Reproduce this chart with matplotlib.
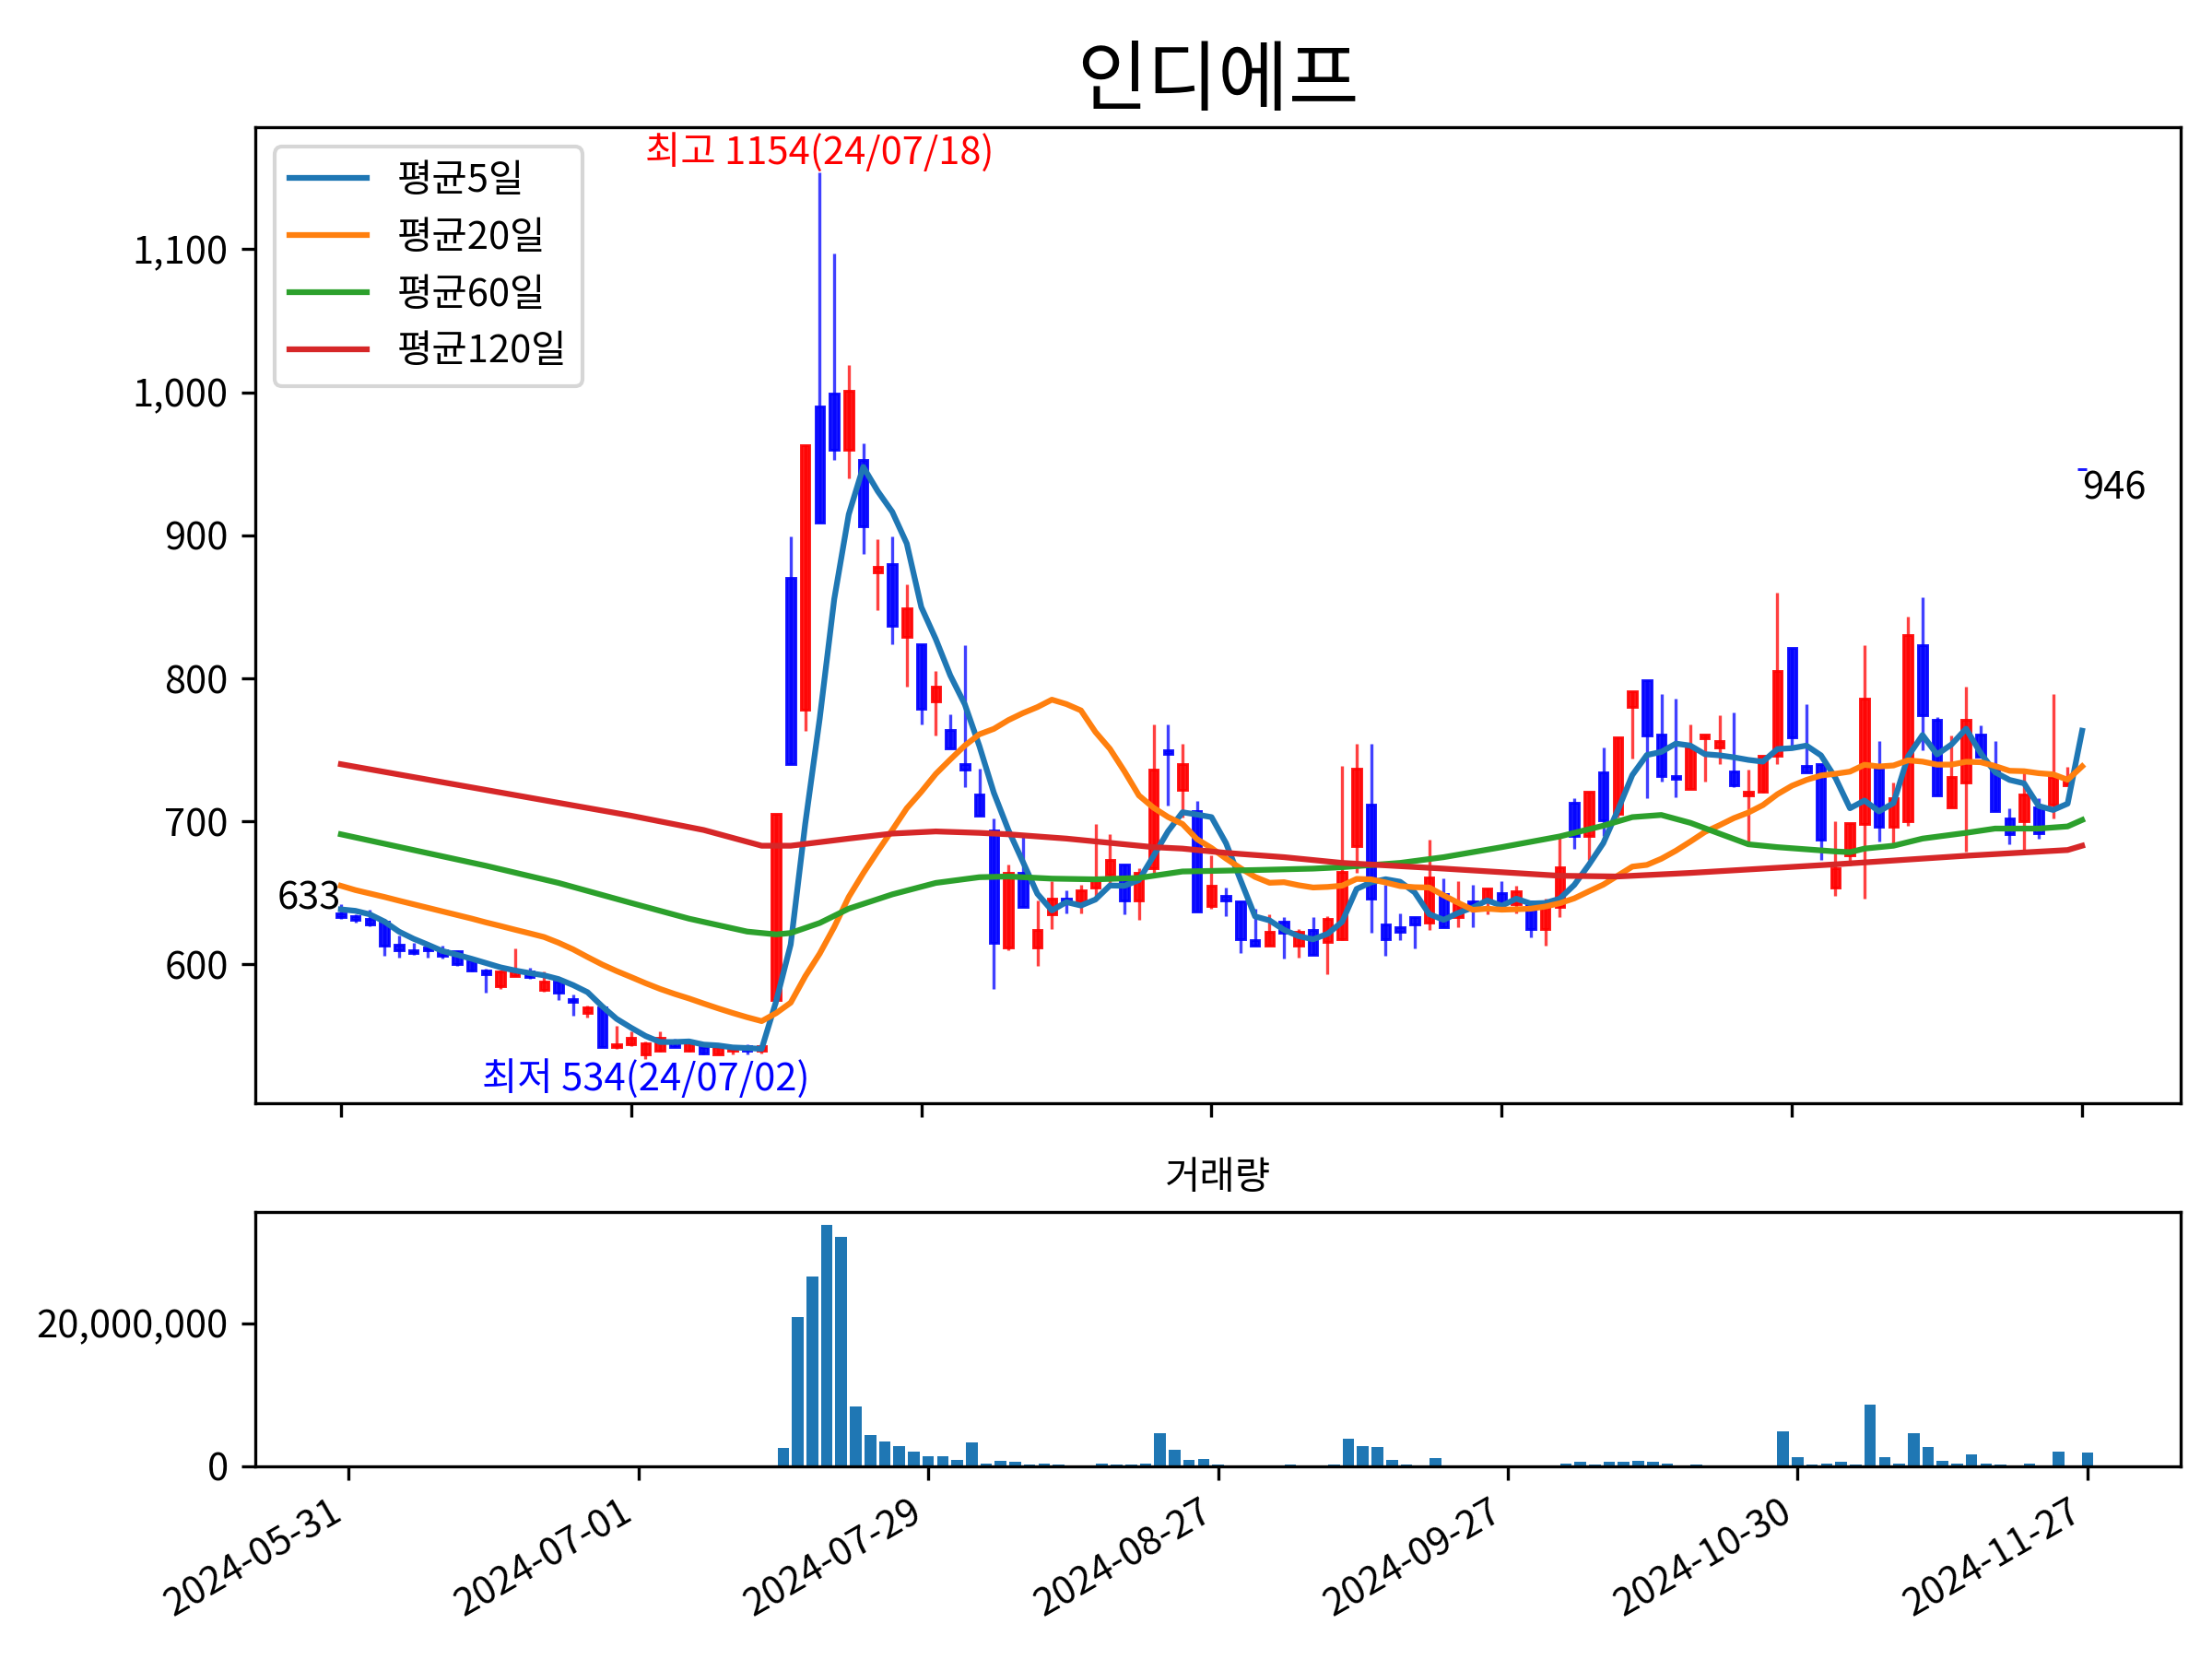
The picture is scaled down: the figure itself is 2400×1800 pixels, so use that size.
import matplotlib
matplotlib.use('Agg')
import matplotlib.pyplot as plt
from matplotlib.ticker import FuncFormatter
import numpy as np

plt.rcParams['font.family'] = ['Noto Sans CJK KR', 'DejaVu Sans']
plt.rcParams['axes.unicode_minus'] = False

title = '인디에프'
tick_idx = [0, 20, 40, 60, 80, 100, 120]
tick_labels = ['2024-05-31', '2024-07-01', '2024-07-29', '2024-08-27',
               '2024-09-27', '2024-10-30', '2024-11-27']
high_date = '24/07/18'
low_date = '24/07/02'

opens = [636, 634, 632, 630, 614, 610, 612, 610, 609, 603,
         596, 585, 592, 595, 582, 588, 576, 566, 570, 542,
         544, 537, 540, 547, 540, 542, 537, 540, 543, 540,
         575, 870, 778, 990, 999, 960, 953, 874, 880, 829,
         824, 784, 764, 740, 719, 694, 612, 664, 612, 635,
         646, 644, 654, 663, 670, 645, 667, 750, 722, 707,
         641, 648, 644, 617, 613, 630, 613, 624, 616, 618,
         683, 712, 628, 626, 633, 629, 649, 633, 644, 646,
         650, 642, 644, 625, 640, 713, 690, 734, 705, 780,
         799, 761, 732, 723, 758, 752, 735, 718, 721, 746,
         821, 739, 740, 654, 676, 698, 737, 696, 700, 823,
         771, 710, 727, 761, 738, 702, 700, 710, 712, 725,
         946]
highs = [642, 635, 638, 632, 620, 615, 615, 613, 610, 603,
         597, 596, 611, 598, 595, 588, 579, 571, 571, 557,
         553, 546, 553, 548, 547, 543, 544, 543, 544, 544,
         705, 899, 963, 1154, 1097, 1019, 964, 897, 899, 866,
         824, 805, 775, 823, 737, 702, 670, 690, 645, 658,
         652, 656, 698, 691, 670, 667, 768, 768, 754, 714,
         676, 654, 644, 639, 635, 633, 625, 633, 634, 739,
         754, 754, 656, 636, 633, 687, 660, 658, 656, 653,
         658, 655, 644, 646, 691, 716, 721, 752, 759, 791,
         799, 789, 786, 768, 761, 774, 776, 736, 746, 860,
         821, 782, 740, 700, 699, 823, 756, 727, 843, 857,
         773, 760, 794, 767, 756, 709, 737, 716, 789, 738,
         946]
lows = [632, 629, 627, 606, 605, 607, 605, 604, 599, 595,
        580, 583, 592, 590, 581, 575, 564, 563, 542, 541,
        543, 534, 539, 542, 539, 537, 537, 537, 537, 538,
        572, 740, 763, 909, 953, 940, 887, 848, 824, 794,
        768, 760, 751, 724, 704, 583, 610, 640, 599, 625,
        636, 636, 648, 656, 635, 631, 664, 711, 703, 637,
        639, 634, 608, 613, 613, 604, 605, 607, 593, 617,
        664, 622, 606, 617, 611, 624, 626, 626, 626, 635,
        642, 636, 619, 613, 633, 681, 673, 690, 703, 744,
        716, 728, 717, 723, 728, 740, 724, 686, 720, 740,
        752, 734, 673, 648, 669, 646, 686, 685, 697, 750,
        718, 710, 679, 745, 707, 684, 680, 688, 702, 725,
        946]
closes = [633, 631, 628, 613, 610, 608, 610, 606, 600, 596,
          593, 595, 595, 591, 588, 580, 574, 570, 542, 544,
          549, 545, 549, 542, 546, 538, 542, 542, 540, 543,
          705, 740, 963, 909, 960, 1001, 906, 878, 837, 849,
          779, 794, 751, 736, 704, 615, 664, 640, 624, 646,
          644, 652, 661, 673, 645, 664, 736, 747, 740, 637,
          655, 645, 618, 613, 623, 622, 623, 607, 632, 665,
          737, 646, 618, 623, 628, 661, 626, 642, 642, 653,
          642, 651, 625, 644, 668, 690, 721, 701, 759, 791,
          760, 732, 730, 752, 761, 756, 725, 721, 746, 805,
          759, 734, 687, 667, 699, 786, 696, 716, 830, 774,
          718, 731, 771, 745, 707, 691, 719, 692, 731, 729,
          946]
volumes = [40000, 40000, 40000, 40000, 40000, 40000, 40000, 40000, 40000, 40000,
           40000, 40000, 40000, 40000, 40000, 40000, 40000, 40000, 40000, 40000,
           40000, 40000, 40000, 40000, 40000, 40000, 40000, 40000, 40000, 40000,
           2500000, 20870000, 26560000, 33810000, 32120000, 8320000, 4310000, 3410000, 2760000, 1980000,
           1340000, 1340000, 820000, 3280000, 430000, 690000, 560000, 300000, 430000, 300000,
           170000, 170000, 430000, 300000, 300000, 430000, 4570000, 2240000, 820000, 950000,
           300000, 170000, 170000, 60000, 60000, 300000, 60000, 60000, 300000, 3790000,
           2760000, 2630000, 820000, 300000, 170000, 1080000, 170000, 60000, 60000, 60000,
           60000, 60000, 170000, 60000, 430000, 560000, 300000, 560000, 560000, 690000,
           560000, 430000, 170000, 300000, 170000, 60000, 170000, 170000, 60000, 4830000,
           1210000, 300000, 430000, 560000, 300000, 8580000, 1210000, 430000, 4570000, 2630000,
           690000, 430000, 1600000, 430000, 300000, 170000, 430000, 170000, 1980000, 170000,
           1850000]

ma5 = [638.5, 637.5, 635.0, 630.0,
       623.0, 618.0, 613.8, 609.4, 606.8, 604.0, 601.0, 598.0, 595.8, 594.0,
       592.4, 589.8, 585.6, 580.6, 570.8, 562.0, 555.8, 550.0, 545.8, 545.8,
       546.2, 544.0, 543.4, 542.0, 541.6, 541.0, 574.4, 614.0, 698.2, 772.0,
       855.4, 914.6, 947.8, 930.8, 916.4, 894.2, 849.8, 827.4, 802.0, 781.8,
       752.8, 720.0, 694.0, 671.8, 649.4, 637.8, 643.6, 641.2, 645.4, 655.2,
       655.0, 659.0, 675.8, 693.0, 706.4, 704.8, 703.0, 684.8, 659.0, 633.6,
       630.8, 624.2, 619.8, 617.6, 621.4, 629.8, 652.8, 657.4, 659.6, 657.8,
       650.4, 635.2, 631.2, 636.0, 639.8, 644.8, 641.0, 646.0, 642.6, 643.0,
       646.0, 655.6, 669.6, 684.8, 707.8, 732.4, 746.4, 748.6, 754.4, 753.0,
       747.0, 746.2, 744.8, 743.0, 741.8, 750.6, 751.2, 753.0, 746.2, 730.4,
       709.2, 714.6, 707.0, 712.8, 745.4, 760.4, 746.8, 753.8, 764.8, 747.8,
       734.4, 729.0, 726.6, 710.8, 708.0, 712.4, 763.4]
ma20 = [655.0, 652.0, 649.6, 647.2, 644.6, 642.1, 639.6, 637.1, 634.6, 632.1,
        629.4, 626.9, 624.3, 621.8, 619.2, 615.2, 610.6, 605.2, 600.0,
        595.4, 591.2, 586.9, 582.9, 579.4, 576.2, 572.7, 569.3, 566.1, 563.1,
        560.4, 566.0, 573.3, 591.7, 607.6, 626.2, 647.2, 663.8, 679.2, 694.0,
        709.2, 720.7, 733.2, 743.3, 753.0, 760.9, 764.7, 770.8, 775.7, 779.9,
        785.1, 782.0, 777.6, 762.5, 750.7, 735.0, 718.1, 709.6, 703.1, 698.2,
        687.6, 681.4, 674.0, 667.3, 661.2, 657.1, 657.5, 655.4, 653.8, 654.2,
        655.1, 659.8, 659.5, 657.3, 654.8, 654.0, 653.8, 648.3, 643.1, 638.2,
        639.0, 638.3, 638.6, 639.0, 640.5, 642.8, 646.2, 651.1, 655.8, 662.1,
        668.4, 669.6, 673.9, 679.5, 685.9, 692.6, 697.3, 702.3, 706.2, 711.4,
        719.0, 724.9, 729.0, 732.1, 733.3, 734.8, 739.6, 738.4, 739.1, 742.7,
        741.8, 739.7, 739.7, 741.7, 741.4, 738.7, 735.4, 735.1, 733.7, 732.9,
        729.1, 738.5]
ma60_x = [0, 5, 10, 15, 20, 24, 28, 30, 31, 33, 35, 38, 41, 44, 46, 49, 52, 55,
          58, 63, 67, 69, 73, 76, 80, 84, 87, 89, 91, 93, 95, 97, 99, 101, 103,
          104, 105, 107, 109, 112, 114, 117, 119, 120]
ma60 = [691, 680, 669, 657, 643, 632, 623, 621, 622, 629, 639, 649, 657, 661,
        661.5, 660, 659.5, 660.5, 665, 666, 667, 668, 671, 675, 682, 689.5, 697,
        703, 704.5, 699, 691.5, 684, 682, 680.5, 679, 678.5, 681, 683, 688, 692,
        695, 695, 696.5, 701]
ma120_x = [0, 10, 20, 25, 29, 31, 35, 38, 41, 44, 46, 50, 56, 58, 61, 65, 69,
           76, 84, 88, 93, 98, 103, 106, 112, 119, 120]
ma120 = [740, 722, 704, 694, 683, 683, 688, 691.5, 693, 692, 691, 688, 682,
         681, 678, 675, 671, 667, 662, 661.5, 664, 667, 670, 672, 676, 680, 683]

o = np.array(opens, dtype=float)
h = np.array(highs, dtype=float)
l = np.array(lows, dtype=float)
c = np.array(closes, dtype=float)
v = np.array(volumes, dtype=float)
x = np.arange(len(c))

fig = plt.figure(figsize=(8, 6), dpi=300)
ax = fig.add_axes([0.1154, 0.335, 0.8705, 0.5881])
axv = fig.add_axes([0.1154, 0.1162, 0.8705, 0.1530])

cols = np.where(c > o, 'red', 'blue')
ax.vlines(x, l, h, colors=cols, linewidth=0.8, alpha=0.75)
ax.bar(x, np.abs(c - o), bottom=np.minimum(o, c), width=0.6, color=cols,
       edgecolor=cols, linewidth=0.7, alpha=0.9)

ax.plot(x, ma5, color='#1f77b4', label='평균5일')
ax.plot(x, ma20, color='#ff7f0e', label='평균20일')
ax.plot(ma60_x, ma60, color='#2ca02c', label='평균60일')
ax.plot(ma120_x, ma120, color='#d62728', label='평균120일')

imax = int(np.argmax(h))
imin = int(np.argmin(l))
ax.text(imax, h[imax], f'최고 {h[imax]:.0f}({high_date})', color='red',
        ha='center', va='bottom', fontsize=10)
ax.text(imin, l[imin], f'최저 {l[imin]:.0f}({low_date})', color='blue',
        ha='center', va='top', fontsize=10)
ax.text(x[0], c[0], f'{c[0]:.0f}', ha='right', va='bottom', fontsize=10)
ax.text(x[-1], c[-1], f'{c[-1]:.0f}', ha='left', va='top', fontsize=10)

ax.set_title(title, fontsize=20)
ax.legend(loc='upper left')
ax.set_xlim(-5.9, 126.8)
ax.set_xticks(tick_idx)
ax.tick_params(axis='x', labelbottom=False)
ax.yaxis.set_major_formatter(FuncFormatter(lambda val, pos: f'{val:,.0f}'))

axv.bar(x, v, width=0.8, color='#1f77b4')
axv.set_title('거래량', fontsize=10)
axv.set_xticks(tick_idx)
axv.set_xticklabels(tick_labels, rotation=30, ha='right')
axv.set_yticks([0, 20000000])
axv.yaxis.set_major_formatter(FuncFormatter(lambda val, pos: f'{val:,.0f}'))

fig.savefig('out.png', dpi=300)
